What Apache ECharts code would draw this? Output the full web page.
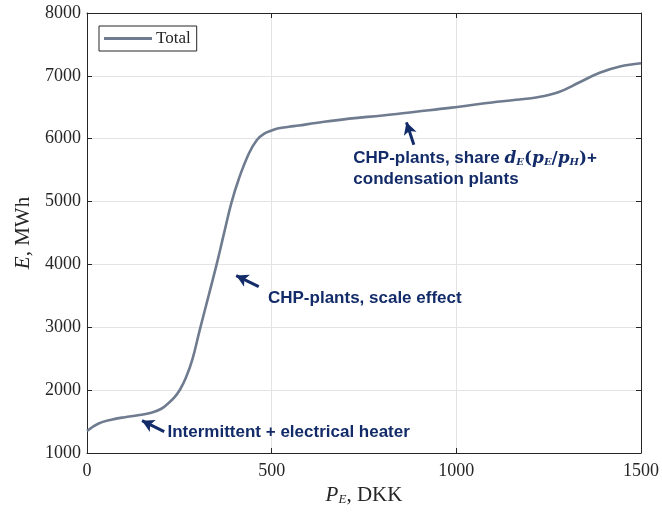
<!DOCTYPE html>
<html>
<head>
<meta charset="utf-8">
<script src="https://cdn.jsdelivr.net/npm/echarts@6/dist/echarts.min.js"></script>
<style>
  html, body { margin: 0; padding: 0; background: #ffffff; }
  #chart { width: 662px; height: 512px; }
</style>
</head>
<body>
<div id="chart"></div>
<script>
// Electricity price P_E (DKK) and produced energy E (MWh)
const priceDKK = [0, 30, 66, 102, 138, 174, 200, 218, 236, 252, 268, 285, 305, 330, 351, 370, 391, 411, 438, 460, 480, 500, 519, 547, 573, 619, 710, 800, 890, 982, 1072, 1162, 1220, 1276, 1331, 1388, 1443, 1500];
const energyMWh = [1350, 1465, 1530, 1570, 1600, 1640, 1700, 1780, 1880, 2010, 2200, 2480, 2950, 3520, 4000, 4470, 4980, 5360, 5760, 5980, 6080, 6130, 6165, 6190, 6210, 6250, 6320, 6370, 6430, 6490, 6560, 6620, 6660, 6740, 6890, 7050, 7150, 7200];

const xTicks = [0, 500, 1000, 1500];
const yTicks = [1000, 2000, 3000, 4000, 5000, 6000, 7000, 8000];

// Annotation arrows: [tailX, tailY, headX, headY] in data units
const arrowTails = [[209, 1339], [465, 3648], [885, 5904]];
const arrowHeads = [[149, 1514], [404, 3823], [865, 6260]];

// Annotation texts, anchored at their left edge (data units)
const noteTexts = [
  'Intermittent + electrical heater',
  'CHP-plants, scale effect',
  'CHP-plants, share {m|d}{sub|E}{p|(}{m|p}{sub|E}{p|/}{m|p}{sub|H}{p|)}+',
  'condensation plants'
];
const noteAnchors = [[218, 1330], [490, 3463], [721, 5682], [721, 5347]];

const NAVY = '#132c69';
const AXIS = '#262626';
const serif = '"Liberation Serif", "Times New Roman", serif';

const series = priceDKK.map((x, i) => [x, energyMWh[i]]);

const noteRich = {
  m: { fontFamily: '"DejaVu Serif", serif', fontStyle: 'italic', fontWeight: 'bold', fontSize: 17, color: NAVY },
  sub: { fontFamily: '"DejaVu Serif", serif', fontStyle: 'italic', fontWeight: 'bold', fontSize: 10, color: NAVY, padding: [8, 0, 0, 0] },
  p: { fontFamily: '"DejaVu Serif", serif', fontSize: 17, color: NAVY }
};

const chart = echarts.init(document.getElementById('chart'), null, { renderer: 'canvas' });

const axisCommon = {
  type: 'value',
  axisLine: { show: true, onZero: false, lineStyle: { color: AXIS, width: 1 } },
  axisTick: { show: true, inside: true, length: 5, lineStyle: { color: AXIS, width: 1 } },
  splitLine: { show: false }
};

const plain = v => String(v);

chart.setOption({
  animation: false,
  backgroundColor: '#ffffff',
  grid: { left: 87, right: 17, top: 13, bottom: 59, containLabel: false },
  legend: {
    left: 99, top: 26,
    orient: 'horizontal',
    borderColor: AXIS, borderWidth: 1, borderRadius: 0,
    backgroundColor: '#ffffff',
    padding: [4, 6, 4, 5],
    itemWidth: 48, itemHeight: 14, itemGap: 5,
    textStyle: { fontFamily: serif, fontSize: 17, color: AXIS, padding: [0, 0, 0, -1] },
    data: [{ name: 'Total', icon: 'path://M0,6 L48,6 L48,9 L0,9 Z' }]
  },
  xAxis: [
    Object.assign({}, axisCommon, {
      position: 'bottom',
      min: xTicks[0], max: xTicks[xTicks.length - 1], interval: 500,
      axisLabel: { show: true, fontFamily: serif, fontSize: 18, color: AXIS, margin: 9, formatter: plain },
      splitLine: { show: true, lineStyle: { color: '#e3e3e3', width: 1 } },
      name: '{i|P}{s|E}{r|, DKK}',
      nameLocation: 'middle', nameGap: 30,
      nameTextStyle: {
        rich: {
          i: { fontFamily: serif, fontStyle: 'italic', fontSize: 21, color: AXIS },
          s: { fontFamily: serif, fontStyle: 'italic', fontSize: 13, color: AXIS, padding: [9, 0, 0, 0] },
          r: { fontFamily: serif, fontSize: 21, color: AXIS }
        }
      }
    }),
    Object.assign({}, axisCommon, {
      position: 'top',
      min: xTicks[0], max: xTicks[xTicks.length - 1], interval: 500,
      axisLabel: { show: false }
    })
  ],
  yAxis: [
    Object.assign({}, axisCommon, {
      position: 'left',
      min: yTicks[0], max: yTicks[yTicks.length - 1], interval: 1000,
      axisLabel: { show: true, fontFamily: serif, fontSize: 18, color: AXIS, margin: 6, formatter: plain },
      splitLine: { show: true, lineStyle: { color: '#e3e3e3', width: 1 } },
      name: '{i|E}{r|, MWh}',
      nameLocation: 'middle', nameGap: 46, nameRotate: 90,
      nameTextStyle: {
        rich: {
          i: { fontFamily: serif, fontStyle: 'italic', fontSize: 21, color: AXIS },
          r: { fontFamily: serif, fontSize: 21, color: AXIS }
        }
      }
    }),
    Object.assign({}, axisCommon, {
      position: 'right',
      min: yTicks[0], max: yTicks[yTicks.length - 1], interval: 1000,
      axisLabel: { show: false }
    })
  ],
  series: [
    {
      name: 'Total',
      type: 'line',
      data: series,
      smooth: 0.4,
      symbol: 'none',
      lineStyle: { color: '#6f7b8f', width: 2.6 },
      itemStyle: { color: '#6f7b8f' },
      silent: true,
      z: 3,
      markLine: {
        silent: true,
        symbol: ['none', 'arrow'],
        symbolSize: [10, 12],
        label: { show: false },
        lineStyle: { color: NAVY, width: 3, type: 'solid' },
        emphasis: { disabled: true },
        data: arrowTails.map((t, i) => [
          { coord: t },
          { coord: arrowHeads[i] }
        ])
      },
      markPoint: {
        silent: true,
        symbol: 'circle',
        symbolSize: 0,
        itemStyle: { color: 'transparent' },
        label: {
          show: true,
          position: 'right',
          distance: 0,
          fontFamily: '"Liberation Sans", Arial, sans-serif',
          fontWeight: 'bold',
          fontSize: 17,
          color: NAVY,
          rich: noteRich
        },
        data: noteAnchors.map((c, i) => ({
          coord: c,
          label: { formatter: noteTexts[i] }
        }))
      }
    }
  ]
});
</script>
</body>
</html>
